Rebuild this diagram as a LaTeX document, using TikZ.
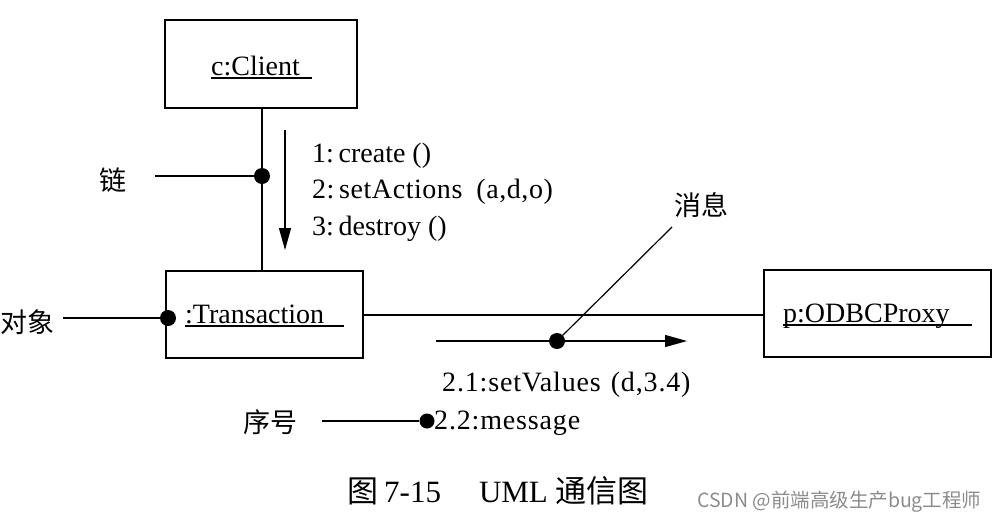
\documentclass[tikz,border=0pt]{standalone}
\usepackage{fontspec}
\setmainfont{Liberation Serif}
\newfontfamily\cjk{Noto Sans CJK SC}
\newfontfamily\wmfont{Noto Sans CJK SC}
\newfontfamily\spacedserif[LetterSpace=3]{Liberation Serif}
\newfontfamily\lessspacedserif[LetterSpace=2]{Liberation Serif}
\usetikzlibrary{arrows.meta}
\begin{document}
\begin{tikzpicture}[x=1pt,y=-1pt,
  obj/.style={draw,line width=1.3pt,inner sep=0pt},
  txt/.style={inner sep=0pt,font=\fontsize{28}{34}\selectfont},
  cjklbl/.style={inner sep=0pt,font=\fontsize{27}{32}\selectfont\cjk},
  ln/.style={line width=1.2pt},
  uline/.style={line width=1.1pt},
  dotmark/.style={circle,fill=black,inner sep=0pt,minimum size=16pt},
  arr/.style={ln,-{Triangle[length=22pt,width=12pt]}}
]
\useasboundingbox (0,0) rectangle (996,520);
% object boxes
\node[obj,minimum width=192pt,minimum height=88pt] (client) at (261,64) {};
\node[obj,minimum width=197pt,minimum height=87pt] (trans) at (264.5,314.5) {};
\node[obj,minimum width=227pt,minimum height=87pt] (odbc) at (877.5,313.5) {};
% object names
\node[txt,anchor=base west] (clientname) at (211,75) {c:Client};
\node[txt,anchor=base west] (transname) at (185,323) {:Transaction};
\node[txt,anchor=base west] (odbcname) at (783,322) {p:ODBCProxy};
\draw[uline] ([yshift=-3pt]clientname.base west) -- ++(101,0);
\draw[uline] ([yshift=-3pt]transname.base west) -- ++(159,0);
\draw[uline] ([yshift=-3pt]odbcname.base west) -- ++(189,0);
% links
\node[dotmark] (linkdot) at (262,176) {};
\draw[ln] (client.south -| linkdot) -- (trans.north -| linkdot);
\draw[ln] (trans.east |- 0,315) -- (odbc.west |- 0,315);
% link label
\node[cjklbl] (lian) at (113,180) {链};
\coordinate (lianend) at (155,176);
\draw[ln] (lianend) -- (linkdot);
% object label
\node[dotmark] (objdot) at (168,318) {};
\node[cjklbl] (duixiang) at (28,322) {对象};
\coordinate (objend) at (63,318);
\draw[ln] (objend) -- (objdot);
% messages to transaction
\coordinate (m1s) at (285,130);
\coordinate (m1e) at (285,250);
\draw[arr] (m1s) -- (m1e);
\node[txt,anchor=base west] (msg1) at (312,162) {1:\,create ()};
\node[txt,anchor=base west] (msg2) at (312,198) {\lessspacedserif 2:\,setActions\hspace{14pt}(a,d,o)};
\node[txt,anchor=base west] (msg3) at (312,235) {3:\,destroy ()};
% message to ODBCProxy
\coordinate (m2s) at (436,341);
\coordinate (m2e) at (687,341);
\draw[arr] (m2s) -- (m2e);
\node[dotmark] (msgdot) at (557,341) {};
\coordinate (msgend) at (672,227);
\draw[ln] (msgdot) -- (msgend);
\node[cjklbl] (xiaoxi) at (701,205) {消息};
\node[txt,anchor=base west] (msg21) at (442,391) {\spacedserif 2.1:setValues\hspace{10pt}(d,3.4)};
\node[dotmark,minimum size=15pt] (seqdot) at (427,421) {};
\node[txt,anchor=base west] (msg22) at (434,429) {\spacedserif 2.2:message};
\node[cjklbl] (xuhao) at (270,422) {序号};
\coordinate (seqend) at (322,421);
\draw[ln] (seqend) -- (seqdot);
% caption
\node[inner sep=0pt,anchor=base west,font=\fontsize{31}{36}\selectfont] (caption) at (347,502)
  {{\cjk 图}\hspace{6pt}7-15\hspace{38pt}UML\hspace{8pt}{\cjk 通信图}};
\node[inner sep=0pt,anchor=base west,font=\fontsize{19.5}{23}\selectfont\wmfont,text=black!45] (wm) at (697,507)
  {CSDN @前端高级生产bug工程师};
\end{tikzpicture}
\end{document}
